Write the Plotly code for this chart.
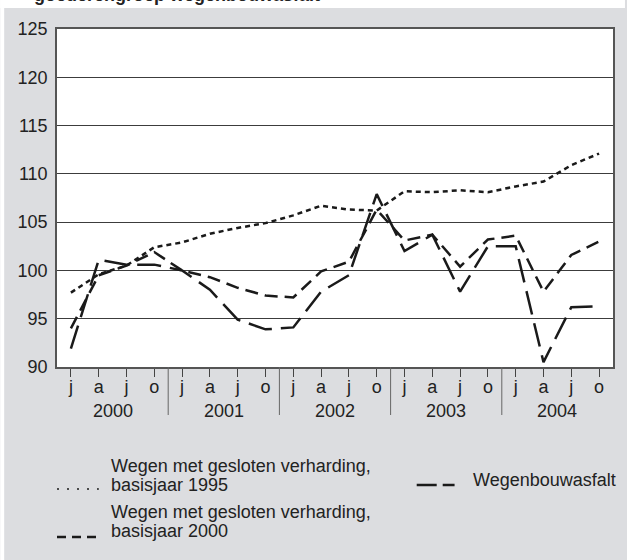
import plotly.graph_objects as go

# ---- data ----
quarters = ["j", "a", "j", "o"] * 5
years = ["2000", "2001", "2002", "2003", "2004"]
x_idx = list(range(20))

basis1995 = [97.7, 99.6, 100.5, 102.4, 102.9, 103.8, 104.4, 104.9, 105.7, 106.7,
             106.3, 106.2, 108.2, 108.1, 108.3, 108.1, 108.7, 109.2, 110.9, 112.1]
basis2000 = [94.0, 99.5, 100.5, 101.9, 100.0, 99.3, 98.2, 97.4, 97.2, 99.9,
             100.9, 106.3, 103.1, 103.7, 100.4, 103.2, 103.6, 97.8, 101.6, 103.0]
asfalt = [91.9, 101.1, 100.6, 100.6, 100.0, 98.0, 94.9, 93.9, 94.1, 97.8,
          99.5, 107.9, 102.0, 103.7, 97.8, 102.5, 102.5, 90.5, 96.2, 96.3]

names = ["Wegen met gesloten verharding, basisjaar 1995",
         "Wegen met gesloten verharding, basisjaar 2000",
         "Wegenbouwasfalt"]

W, H = 627, 560
L, R, T, B = 57, 12, 29, 193
PW, PH = W - L - R, H - T - B
FONT = "Liberation Sans, Arial, sans-serif"
TXT = "#222222"
LINE = "#1a1a1a"
BG = "#dcdde0"
FS = 18


def px(xp):
    return (xp - L) / PW


def py(yp):
    return 1 - (yp - T) / PH


fig = go.Figure()
fig.add_trace(go.Scatter(x=x_idx, y=basis1995, mode="lines", name=names[0],
                         line=dict(color=LINE, width=2.5, dash="5px,4px")))
fig.add_trace(go.Scatter(x=x_idx, y=basis2000, mode="lines", name=names[1],
                         line=dict(color=LINE, width=2.5, dash="13px,7px")))
fig.add_trace(go.Scatter(x=x_idx, y=asfalt, mode="lines", name=names[2],
                         line=dict(color=LINE, width=2.5, dash="24px,9px")))

shapes = []
# white strips outside the gray panel
shapes.append(dict(type="rect", xref="paper", yref="paper", x0=px(0), x1=px(W),
                   y0=py(8), y1=py(0), fillcolor="white", line=dict(width=0), layer="above"))
shapes.append(dict(type="rect", xref="paper", yref="paper", x0=px(0), x1=px(4),
                   y0=py(H), y1=py(0), fillcolor="white", line=dict(width=0), layer="above"))
# year separators
for s in [3.5, 7.5, 11.5, 15.5]:
    shapes.append(dict(type="line", xref="x", yref="paper", x0=s, x1=s,
                       y0=0, y1=py(415), line=dict(color="#666666", width=1)))

annotations = []
annotations.append(dict(text="<b>goederengroep wegenbouwasfalt</b>", xref="paper", yref="paper",
                        x=px(32), y=py(7), xanchor="left", yanchor="bottom", showarrow=False,
                        font=dict(family=FONT, size=18, color=TXT)))
for i, yr in enumerate(years):
    annotations.append(dict(text=yr, xref="x", yref="paper", x=4 * i + 1.5, y=py(411),
                            xanchor="center", yanchor="middle", showarrow=False,
                            font=dict(family=FONT, size=FS, color=TXT)))

# legend (keys + labels), each text line placed separately
leg_text = [
    ("Wegen met gesloten verharding,", 109, 466),
    ("basisjaar 1995", 109, 485),
    ("Wegen met gesloten verharding,", 109, 512),
    ("basisjaar 2000", 109, 531),
    ("Wegenbouwasfalt", 472, 480),
]
for text, tx, ty in leg_text:
    annotations.append(dict(text=text, xref="paper", yref="paper", x=px(tx), y=py(ty),
                            xanchor="left", yanchor="middle", align="left", showarrow=False,
                            font=dict(family=FONT, size=FS, color=TXT)))
leg_keys = [
    (57, 99, 489, "2px,8px", 1.6),
    (57, 98, 537, "9px,6px", 2.5),
    (418, 456, 485, "20px,6px", 2.5),
]
for kx0, kx1, ky, dash, w in leg_keys:
    shapes.append(dict(type="line", xref="paper", yref="paper", x0=px(kx0), x1=px(kx1),
                       y0=py(ky), y1=py(ky), line=dict(color=LINE, width=w, dash=dash)))

fig.update_layout(
    width=W, height=H,
    margin=dict(l=L, r=R, t=T, b=B, pad=0),
    paper_bgcolor=BG, plot_bgcolor="white",
    showlegend=False,
    font=dict(family=FONT, size=FS, color=TXT),
    shapes=shapes, annotations=annotations,
    xaxis=dict(range=[-0.5, 19.5], tickmode="array", tickvals=x_idx, ticktext=quarters,
               ticks="outside", ticklen=8, tickcolor="#444444", tickwidth=1,
               ticklabelstandoff=-5,
               showgrid=False, zeroline=False, showline=True, mirror=True,
               linecolor="#555555", linewidth=1.5,
               tickfont=dict(family=FONT, size=FS, color=TXT), fixedrange=True),
    yaxis=dict(range=[90, 125], tickmode="linear", tick0=90, dtick=5,
               ticks="", showgrid=True, gridcolor="#3c3c3c", gridwidth=1,
               zeroline=False, showline=True, mirror=True,
               linecolor="#555555", linewidth=1.5, ticklabelstandoff=4,
               tickfont=dict(family=FONT, size=FS, color=TXT), fixedrange=True),
)

fig.write_html("out.html", config={"displayModeBar": False},
               post_script="document.body.style.margin='0px';")
